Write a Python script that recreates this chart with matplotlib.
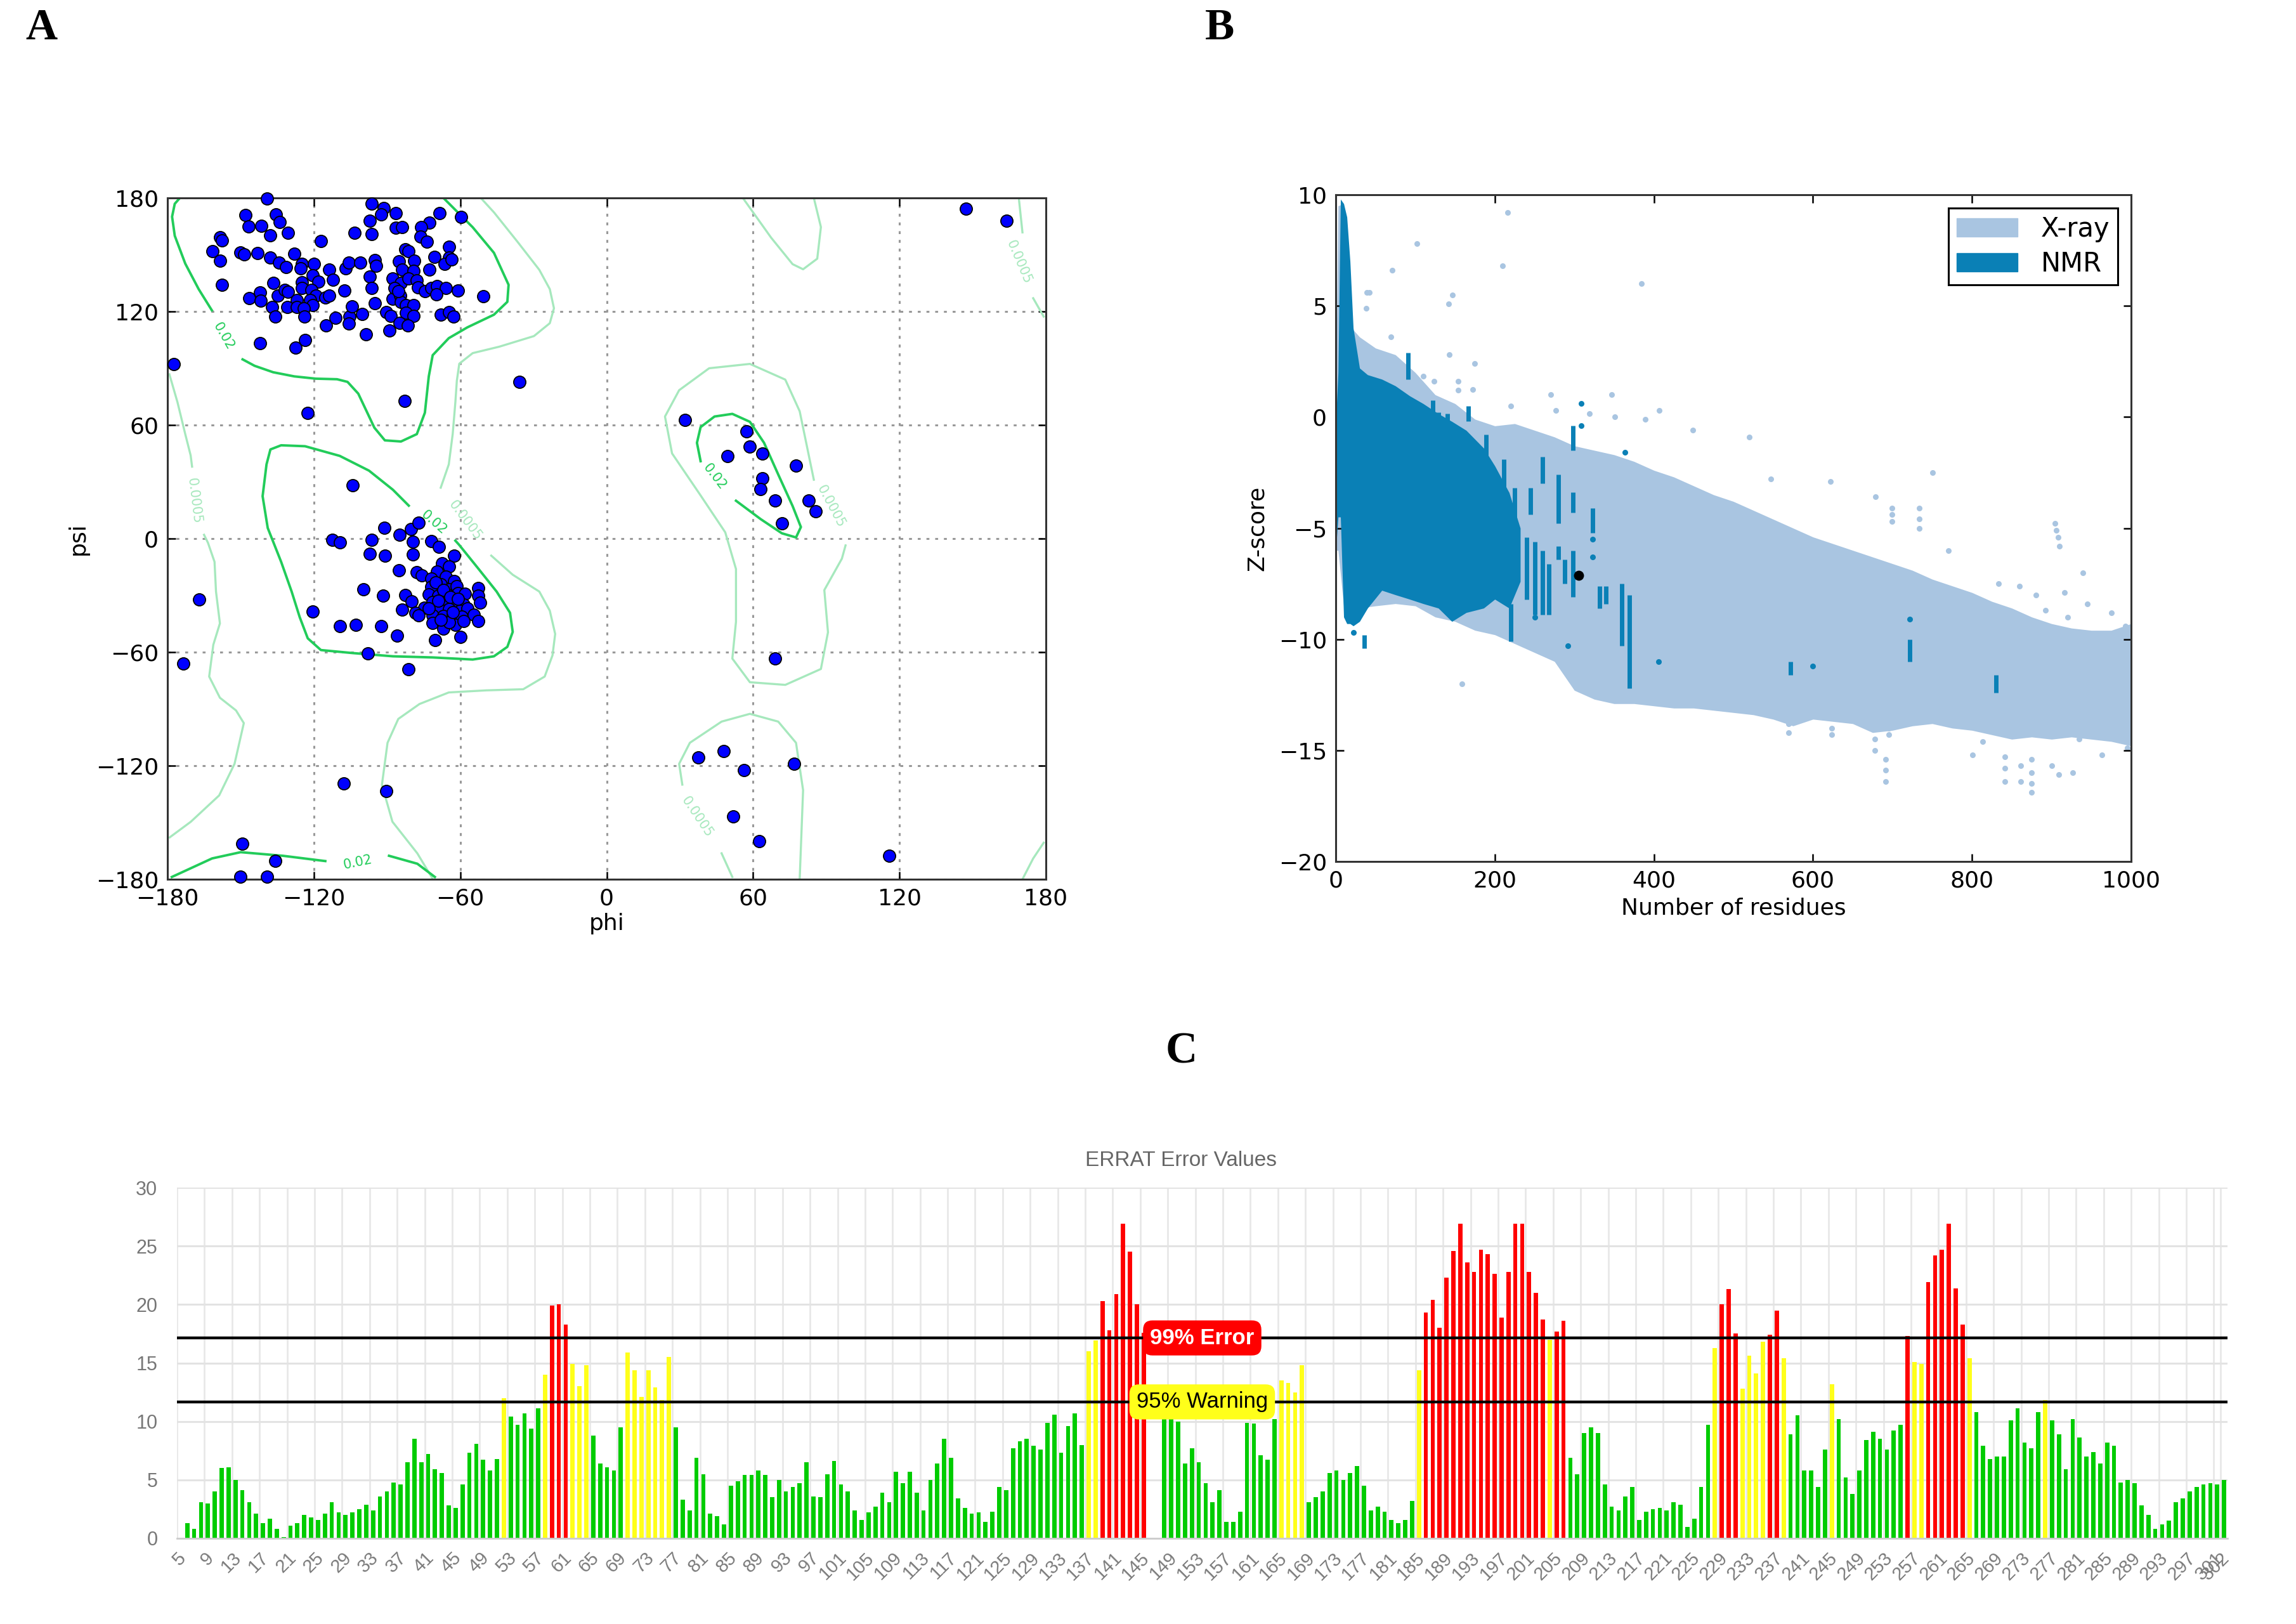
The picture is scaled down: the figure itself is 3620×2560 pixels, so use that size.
import matplotlib
matplotlib.use("Agg")
import matplotlib.pyplot as plt
from matplotlib.patches import Patch
import numpy as np

# ---------------- A: Ramachandran plot ----------------
rama_phi = [
    -139.1, -147.9, -135.6, -146.7, -141.6, -134.0, -137.8, -130.7, -158.5, -157.7,
    -117.1, -161.5, -158.5, -150.0, -148.5, -143.2, -137.8, -134.2, -131.5, -128.0,
    -124.9, -125.5, -120.0, -120.5, -118.1, -113.8, -112.1, -106.9, -105.6, -101.0,
    -103.2, -96.3, -91.4, -92.5, -86.3, -97.2, -96.3, -86.5, -83.8, -68.5,
    -59.6, -72.6, -76.0, -76.2, -73.7, -64.5, -82.4, -81.1, -70.7, -64.5,
    -66.4, -63.6, -94.9, -94.6, -85.0, -78.9, -83.8, -79.1, -72.6, -97.2,
    -87.6, -84.3, -81.1, -77.8, -136.7, -157.7, -146.5, -142.1, -141.9, -134.7,
    -131.8, -130.5, -127.1, -124.9, -124.9, -120.9, -119.2, -121.4, -120.5, -137.2,
    -135.8, -131.0, -127.1, -124.1, -123.9, -115.4, -113.6, -107.5, -115.1, -111.1,
    -105.3, -105.6, -104.3, -100.2, -98.7, -96.3, -94.9, -90.3, -88.4, -88.9,
    -87.6, -87.0, -84.5, -84.3, -82.2, -79.1, -82.2, -79.1, -84.9, -81.6,
    -85.4, -77.2, -74.5, -71.8, -69.6, -65.8, -60.9, -69.8, -68.0, -64.7,
    -62.7, -50.5, -35.8, -82.7, -122.5, -177.3, -142.1, -127.6, -123.6,
    # alpha region
    -104.2, -112.5, -109.2, -96.3, -91.2, -84.8, -80.2, -77.1, -79.4, -71.8,
    -68.8, -97.2, -90.9, -79.4, -62.5, -85.2, -77.8, -75.8, -67.4, -64.5,
    -69.6, -66.0, -62.5, -71.8, -71.8, -68.0, -64.7, -61.4, -52.7, -52.7,
    -51.8, -99.6, -91.6, -82.5, -79.8, -72.9, -69.1, -65.3, -60.9, -58.2,
    -71.3, -66.4, -62.0, -58.7, -74.7, -69.1, -64.7, -60.3, -57.1, -83.8,
    -78.3, -77.0, -71.3, -66.9, -63.1, -59.3, -54.4, -71.3, -66.9, -62.0,
    -58.7, -52.7, -66.9, -64.7, -120.5, -109.4, -102.9, -92.5, -85.8, -70.2,
    -59.8, -97.8, -81.1, -166.9, -173.5, -70.0, -67.0, -64.0, -61.0, -69.0,
    -73.0, -63.0, -68.0,
    # other regions
    147.2, 163.8, 32.1, 57.3, 58.7, 49.5, 63.7, 77.6, 63.7, 63.1,
    68.9, 82.8, 85.7, 71.8, 68.9, 37.6, 48.0, 56.4, 76.7, 51.8,
    62.5, 115.9, -107.8, -90.4, -149.3, -135.9, -150.2, -139.2,
]
rama_psi = [
    179.7, 171.0, 171.2, 165.0, 165.4, 167.3, 160.2, 161.7, 159.1, 157.5,
    157.2, 151.9, 146.7, 151.3, 150.2, 151.0, 148.5, 145.9, 143.3, 150.6,
    145.3, 142.9, 145.1, 139.1, 135.8, 142.2, 136.6, 142.9, 145.9, 145.9,
    161.7, 176.9, 174.6, 171.2, 172.1, 168.1, 160.9, 164.3, 164.7, 171.8,
    169.9, 167.0, 164.7, 159.4, 156.8, 154.1, 152.7, 151.9, 148.9, 148.5,
    145.1, 147.6, 147.0, 144.2, 146.5, 146.7, 142.0, 141.4, 142.2, 138.6,
    137.5, 135.2, 137.5, 136.3, 135.2, 134.1, 127.1, 130.1, 125.6, 128.4,
    131.3, 130.5, 126.2, 135.4, 132.4, 131.3, 128.4, 126.2, 123.4, 122.3,
    117.2, 122.3, 122.3, 121.7, 117.2, 127.3, 128.4, 130.9, 112.7, 116.6,
    117.4, 113.6, 122.8, 118.5, 108.0, 132.4, 124.5, 119.7, 117.7, 110.1,
    126.8, 132.4, 128.4, 125.1, 123.4, 123.4, 119.4, 117.7, 114.0, 112.7,
    130.7, 132.7, 130.7, 132.4, 133.5, 132.4, 130.9, 129.0, 118.3, 119.7,
    117.4, 127.9, 82.8, 72.9, 66.5, 92.2, 103.1, 100.9, 105.0,
    # alpha region
    28.0, -0.6, -2.0, -0.6, 5.8, 2.0, 5.0, 8.4, -1.7, -1.3,
    -4.5, -8.1, -9.2, -8.4, -9.0, -16.8, -17.7, -19.3, -13.2, -14.8,
    -17.4, -20.0, -22.4, -21.1, -25.6, -24.1, -26.9, -25.2, -26.3, -30.0,
    -33.9, -26.7, -30.3, -29.7, -33.1, -29.4, -30.0, -29.4, -28.9, -29.1,
    -33.4, -33.4, -34.2, -34.8, -36.4, -36.4, -37.2, -38.1, -37.0, -37.6,
    -39.2, -40.4, -40.4, -40.9, -40.4, -41.3, -40.1, -44.6, -46.0, -45.7,
    -43.5, -43.5, -47.6, -44.3, -38.7, -46.2, -45.6, -46.2, -51.3, -53.6,
    -51.8, -60.8, -69.2, -32.2, -65.9, -23.0, -27.0, -31.0, -32.0, -33.0,
    -37.0, -39.0, -43.0,
    # other regions
    174.3, 167.9, 62.6, 56.7, 48.7, 43.6, 45.0, 38.6, 31.7, 26.1,
    20.0, 20.0, 14.5, 8.1, -63.4, -115.6, -112.3, -122.3, -119.0, -146.8,
    -159.9, -167.6, -129.3, -133.4, -161.2, -170.4, -178.8, -178.8,
]

# contour lines, as (phi, psi) vertices; None = label gap
c02_beta = [(-174.9, 180.0), (-177.0, 176.9), (-178.1, 170.1), (-177.0, 160.0), (-172.7, 145.3),
            (-167.2, 131.8), (-161.8, 120.6), None,
            (-149.2, 94.7), (-144.3, 91.3), (-136.7, 87.9), (-128.0, 85.7), (-119.2, 84.5),
            (-110.5, 84.2), (-106.2, 82.8), (-101.8, 76.6), (-98.5, 67.6), (-95.2, 58.6),
            (-90.9, 51.9), (-84.3, 51.3), (-77.8, 55.2), (-74.5, 66.5), (-72.9, 85.7),
            (-71.3, 96.9), (-64.7, 105.9), (-57.1, 111.6), (-46.2, 118.3), (-40.7, 125.1),
            (-40.2, 134.1), (-46.2, 151.0), (-54.9, 164.5), (-66.9, 180.0)]
c02_alpha = [(-81.1, 17.4), (-87.6, 25.8), (-97.4, 35.9), (-109.4, 43.7), (-123.6, 48.8),
             (-133.4, 49.3), (-137.8, 47.1), (-139.4, 39.2), (-141.0, 22.4), (-138.9, 5.6),
             (-133.4, -12.3), (-129.1, -28.0), (-125.8, -41.5), (-122.5, -52.7), (-117.1, -58.9),
             (-104.0, -60.5), (-87.6, -62.2), (-71.3, -62.8), (-54.9, -63.9), (-46.2, -62.2),
             (-40.7, -57.2), (-38.5, -49.3), (-39.6, -39.2), (-45.1, -28.0), (-52.7, -15.7),
             (-60.4, -3.4), (-62.0, -1.1)]
c02_left = [(38.5, 40.9), (37.0, 50.6), (38.5, 58.9), (44.2, 64.5), (51.5, 65.9), (58.7, 61.7),
            (64.5, 50.6), (70.3, 33.9), (76.2, 17.2), (79.6, 6.1), (77.6, 0.6), (71.8, 2.8),
            (63.1, 10.3), (53.0, 20.0)]
c02_bottom = [(-178.2, -178.8), (-161.7, -169.0), (-150.0, -165.7), (-132.7, -167.6),
              (-115.3, -170.4), None, (-89.2, -167.6), (-77.6, -171.8), (-70.4, -178.8)]
c0005_left = [(-179.2, 86.8), (-175.9, 72.1), (-172.7, 55.2), (-170.5, 44.0), (-169.9, 38.0), None,
              (-165.0, 2.0), (-163.4, -2.2), (-160.7, -12.3), (-160.1, -28.0), (-158.5, -44.8),
              (-161.2, -56.1), (-162.9, -72.9), (-158.5, -84.1), (-151.9, -90.8), (-148.7, -97.5),
              (-152.5, -119.0), (-158.8, -135.7), (-170.4, -149.6), (-179.1, -157.9)]
c0005_mid = [(-51.6, 180.0), (-46.2, 172.4), (-36.4, 156.6), (-27.6, 142.0), (-23.3, 131.8),
             (-21.6, 121.7), (-23.3, 113.8), (-29.8, 107.0), (-44.0, 101.4), (-54.9, 98.0),
             (-60.4, 92.4), (-61.4, 83.4), (-62.0, 72.1), (-63.1, 55.2), (-64.7, 39.2),
             (-68.0, 26.9), None,
             (-47.3, -9.0), (-38.5, -19.1), (-27.6, -28.0), (-23.3, -38.1), (-21.1, -50.4),
             (-22.2, -61.7), (-25.4, -72.9), (-34.2, -79.6), (-49.4, -80.2), (-64.7, -81.3),
             (-76.7, -87.4), (-85.4, -95.3), (-89.8, -107.9), (-92.1, -130.1), (-87.8, -149.6),
             (-77.6, -166.3), (-71.2, -180.0)]
c0005_alphal = [(84.9, 31.1), (79.1, 67.3), (73.2, 84.0), (58.7, 92.3), (42.0, 90.0), (29.7, 78.4),
                (23.9, 64.5), (26.8, 45.0), (38.5, 22.8), (48.6, 3.3), (53.0, -16.1), (53.0, -43.9),
                (51.5, -63.4), (58.7, -75.9), (73.2, -77.3), (87.8, -68.9), (90.7, -49.5),
                (89.2, -27.2), (96.4, -10.6), (97.9, -3.6)]
c0005_top = [(55.8, 180.0), (67.4, 159.0), (76.2, 145.0), (80.5, 142.3), (86.3, 147.9),
             (87.8, 164.6), (84.9, 180.0)]
c0005_right = [(168.9, 180.0), (170.4, 161.8), None, (174.8, 127.0), (179.1, 117.3)]
c0005_corner = [(179.1, -160.7), (174.8, -169.0), (170.4, -180.0)]
c0005_bottom = [(79.1, -180.0), (80.5, -132.9), (77.6, -107.9), (70.3, -96.7), (58.7, -92.6),
                (47.1, -96.7), (34.1, -107.9), (29.7, -119.0), (31.0, -130.0), None,
                (47.1, -166.3), (51.5, -178.8)]

# contour labels: (phi, psi, rotation)
lab02 = [(-157.0, 107.0, -60), (-70.7, 8.4, -41), (44.2, 32.5, -52), (-102.0, -171.0, 12)]
lab0005 = [(-169.0, 20.0, -83), (-58.0, 9.5, -53), (92.0, 17.0, -62), (169.0, 146.0, -67),
           (37.0, -147.0, -56)]

# ---------------- B: ProSA z-score ----------------
xray_x = [0, 3, 10, 15, 20, 30, 50, 75, 100, 125, 150, 175, 200, 225, 250, 275, 300, 325, 350,
          375, 400, 425, 450, 475, 500, 525, 550, 575, 600, 625, 650, 675, 700, 725, 750, 775,
          800, 825, 850, 875, 900, 925, 950, 975, 1000]
xray_hi = [1.0, 9.5, 9.6, 6.0, 4.0, 3.6, 3.1, 2.8, 2.0, 1.0, 0.6, -0.1, -0.4, -0.3, -0.6, -0.9,
           -1.3, -1.5, -1.7, -2.0, -2.4, -2.7, -3.1, -3.5, -3.8, -4.2, -4.6, -5.0, -5.4, -5.7,
           -6.0, -6.3, -6.6, -6.9, -7.3, -7.6, -7.9, -8.3, -8.6, -9.0, -9.3, -9.5, -9.6,
           -9.6, -9.3]
xray_lo = [-6.0, -6.0, -8.5, -9.2, -9.0, -8.6, -8.5, -8.4, -8.5, -9.0, -9.2, -9.6, -9.8, -10.2,
           -10.6, -11.0, -12.3, -12.7, -12.9, -12.9, -13.0, -13.1, -13.1, -13.2, -13.3, -13.4,
           -13.6, -13.9, -13.6, -13.7, -13.8, -14.2, -14.1, -13.9, -13.8, -14.0, -14.1, -14.3,
           -14.5, -14.4, -14.5, -14.4, -14.5, -14.6, -14.8]
xray_dot_x = [216, 102, 210, 71, 384, 39, 147, 142, 38, 143, 175, 69, 270, 347, 407, 220, 449,
              520, 389, 277, 622, 547, 750, 679, 699, 699, 699, 734, 734, 734, 904, 906, 908,
              910, 939, 833, 916, 892, 920, 909, 953, 975, 993, 159, 695, 695, 695, 691, 691,
              691, 678, 678, 813, 801, 841, 841, 841, 861, 861, 875, 875, 875, 875, 909, 927,
              963, 995, 995, 935, 900, 624, 624, 569, 569, 110, 124, 154, 154, 172, 319, 351,
              42, 770, 880, 945, 860]
xray_dot_y = [9.2, 7.8, 6.8, 6.6, 6.0, 5.6, 5.5, 5.1, 4.9, 2.8, 2.4, 3.6, 1.0, 1.0, 0.3, 0.5,
              -0.6, -0.9, -0.1, 0.3, -2.9, -2.8, -2.5, -3.6, -4.1, -4.4, -4.7, -4.1, -4.6, -5.0,
              -4.8, -5.1, -5.4, -5.8, -7.0, -7.5, -7.9, -8.7, -9.0, -9.8, -9.8, -8.8, -9.4,
              -12.0, -13.6, -14.0, -14.3, -15.4, -15.9, -16.4, -14.5, -15.0, -14.6, -15.2,
              -15.3, -15.8, -16.4, -15.7, -16.4, -15.4, -16.0, -16.5, -16.9, -16.1, -16.0,
              -15.2, -14.5, -14.9, -14.5, -15.7, -14.0, -14.3, -13.8, -14.2, 1.85, 1.6, 1.6,
              1.2, 1.25, 0.15, 0.0, 5.6, -6.0, -8.0, -8.4, -7.6]

nmr_x = [1, 3, 6, 10, 14, 18, 22, 30, 40, 58, 75, 93, 110, 129, 146, 164, 186, 200, 218, 232]
nmr_hi = [0.5, 2.0, 9.8, 9.6, 9.0, 7.0, 4.0, 2.2, 1.9, 1.7, 1.4, 0.95, 0.6, 0.15, -0.2, -0.6,
          -1.4, -2.2, -3.4, -5.0]
nmr_lo = [-5.5, -4.5, -4.5, -9.0, -9.3, -9.3, -9.4, -9.2, -8.6, -7.8, -8.0, -8.2, -8.4, -8.6,
          -9.2, -8.8, -8.6, -8.2, -8.6, -7.4]
nmr_bar_x = [91, 122, 129, 140, 167, 189, 211, 220, 225, 245, 240, 250, 260, 268, 260, 280, 280,
             288, 298, 298, 298, 323, 332, 340, 360, 369, 572, 722, 830, 36]
nmr_bar_hi = [2.9, 0.75, 0.2, 0.15, 0.5, -0.8, -1.9, -8.4, -3.2, -3.2, -5.4, -5.6, -6.0, -6.6,
              -1.8, -2.6, -5.8, -6.4, -0.4, -3.4, -6.0, -4.1, -7.6, -7.6, -7.5, -8.0, -11.0,
              -10.0, -11.6, -9.8]
nmr_bar_lo = [1.7, -0.4, -1.0, -0.6, -0.2, -2.1, -3.4, -10.1, -5.0, -4.4, -8.2, -8.9, -8.9,
              -8.9, -3.0, -4.8, -6.4, -7.5, -1.5, -4.3, -8.1, -5.2, -8.6, -8.4, -10.3, -12.2,
              -11.6, -11.0, -12.4, -10.4]
nmr_dot_x = [309, 309, 364, 292, 406, 250, 600, 722, 323, 323, 22]
nmr_dot_y = [0.6, -0.4, -1.6, -10.3, -11.0, -9.0, -11.2, -9.1, -5.5, -6.3, -9.7]
query_res = [305.7]
query_z = [-7.13]

# ---------------- C: ERRAT ----------------
residues = list(range(5, 303))
errat = [
    0.0,
    1.3, 0.8, 3.1, 3.0, 4.0, 6.0, 6.1, 5.0, 4.1, 3.1,
    2.1, 1.3, 1.7, 0.8, 0.1, 1.1, 1.3, 2.0, 1.8, 1.6,
    2.1, 3.1, 2.2, 2.0, 2.2, 2.5, 2.9, 2.4, 3.6, 4.0,
    4.8, 4.6, 6.5, 8.5, 6.5, 7.2, 5.9, 5.6, 2.8, 2.6,
    4.6, 7.3, 8.1, 6.7, 5.8, 6.8, 12.0, 10.4, 9.7, 10.7,
    9.4, 11.1, 14.0, 19.9, 20.0, 18.3, 14.9, 13.0, 14.8, 8.8,
    6.4, 6.1, 5.8, 9.5, 15.9, 14.4, 12.1, 14.4, 12.9, 11.8,
    15.5, 9.5, 3.3, 2.4, 6.9, 5.5, 2.1, 1.9, 1.2, 4.5,
    4.9, 5.4, 5.4, 5.8, 5.4, 3.5, 5.0, 4.0, 4.4, 4.7,
    6.5, 3.6, 3.5, 5.5, 6.6, 4.6, 4.0, 2.4,
    1.6, 2.2, 2.7, 3.9, 3.1, 5.7, 4.7, 5.7, 3.9, 2.4,
    5.0, 6.4, 8.5, 6.9, 3.4, 2.6, 2.1, 2.2, 1.4, 2.3,
    4.4, 4.1, 7.7, 8.3, 8.5, 7.9, 7.6, 9.9, 10.6, 7.3,
    9.6, 10.7, 8.0, 16.0, 16.9, 20.3, 17.8, 20.9, 26.9, 24.5,
    20.0, 17.6, 0.0, 0.0, 10.2, 10.2, 10.0, 6.4, 7.7, 6.5,
    4.7, 3.1, 4.1, 1.4, 1.4, 2.3, 9.9, 9.8, 7.1, 6.7,
    10.2, 13.5, 13.3, 12.5, 14.8,
    3.1, 3.5, 4.0, 5.6, 5.8, 5.0, 5.6, 6.2, 4.5, 2.4,
    2.7, 2.3, 1.6, 1.3, 1.6, 3.2, 14.4, 19.3, 20.4, 18.0,
    22.3, 24.6, 26.9, 23.6, 22.8, 24.7, 24.3, 22.6, 18.9, 22.8,
    26.9, 26.9, 22.8, 21.0, 18.7, 17.0, 17.7, 18.6, 6.9, 5.5,
    9.0, 9.5, 9.0, 4.6, 2.7, 2.4, 3.6, 4.4, 1.6, 2.3,
    2.5, 2.6, 2.4, 3.1, 2.9, 1.0, 1.7, 4.4, 9.7, 16.3,
    20.0, 21.3, 17.5, 12.8, 15.6, 14.1, 16.8, 17.4, 19.5, 15.4,
    8.9, 10.5, 5.8, 5.8, 4.4, 7.6, 13.2, 10.2, 5.2, 3.8,
    5.8, 8.4, 9.1, 8.5, 7.6, 9.2, 9.7, 17.3, 15.1, 14.9,
    21.9, 24.2, 24.7, 26.9, 21.4, 18.3, 15.4, 10.8, 7.9, 6.8,
    7.0, 7.0, 10.1, 11.1, 8.2, 7.7, 10.8, 11.8, 10.1, 8.9,
    5.9, 10.2, 8.6, 7.0, 7.4, 6.4, 8.2, 7.9, 4.8, 5.0,
    4.7, 2.8, 2.0, 0.8, 1.2, 1.5, 3.1, 3.4, 4.0, 4.4,
    4.6, 4.7, 4.6, 5.0,
]
error_line = 17.14
warning_line = 11.67

# ---------------- figure ----------------
fig = plt.figure(figsize=(36.2, 25.6), dpi=100)
W, H = 3620.0, 2560.0


def box(x0, x1, ytop, ybot):
    return [x0 / W, 1 - ybot / H, (x1 - x0) / W, (ybot - ytop) / H]


def draw_path(ax, pts, **kw):
    seg = []
    for p in pts + [None]:
        if p is None:
            if seg:
                ax.plot([q[0] for q in seg], [q[1] for q in seg], **kw)
            seg = []
        else:
            seg.append(p)


def classic_axes(ax):
    for s in ax.spines.values():
        s.set_linewidth(2.2)
        s.set_color('#333333')
    ax.tick_params(direction='in', top=True, right=True, length=9, width=1.8,
                   labelsize=26, pad=10)


# A
axA = fig.add_axes(box(264, 1649, 312, 1386))
dark_c = '#22cc5a'
light_c = '#a6e8bd'
for path in [c0005_left, c0005_mid, c0005_alphal, c0005_top, c0005_right, c0005_corner,
             c0005_bottom]:
    draw_path(axA, path, color=light_c, lw=2.4, zorder=2)
for path in [c02_beta, c02_alpha, c02_left, c02_bottom]:
    draw_path(axA, path, color=dark_c, lw=2.8, zorder=2)
for x, y, r in lab02:
    axA.text(x, y, '0.02', color=dark_c, fontsize=15, rotation=r, ha='center', va='center',
             rotation_mode='anchor', zorder=2)
for x, y, r in lab0005:
    axA.text(x, y, '0.0005', color=light_c, fontsize=15, rotation=r, ha='center',
             va='center', rotation_mode='anchor', zorder=2)
axA.scatter(rama_phi, rama_psi, s=190, c='#0000ff', edgecolors='black', linewidths=1.3,
            zorder=3, clip_on=False)
axA.set_xlim(-180, 180)
axA.set_ylim(-180, 180)
ticks = [-180, -120, -60, 0, 60, 120, 180]
tick_txt = ['\u2212180', '\u2212120', '\u221260', '0', '60', '120', '180']
axA.set_xticks(ticks)
axA.set_yticks(ticks)
axA.set_xticklabels(tick_txt)
axA.set_yticklabels(tick_txt)
axA.grid(True, linestyle=(0, (1.5, 3)), color='#999999', lw=2.2)
classic_axes(axA)
axA.set_xlabel('phi', fontsize=26, labelpad=4)
axA.set_ylabel('psi', fontsize=26, labelpad=8)

# B
axB = fig.add_axes(box(2106, 3360, 307, 1358))
xray_c = '#a9c5e1'
nmr_c = '#0a80b6'
axB.fill_between(xray_x, xray_lo, xray_hi, color=xray_c, lw=0, zorder=1)
axB.scatter(xray_dot_x, xray_dot_y, s=42, c=xray_c, lw=0, zorder=1)
axB.fill_between(nmr_x, nmr_lo, nmr_hi, color=nmr_c, lw=0, zorder=2)
axB.vlines(nmr_bar_x, nmr_bar_lo, nmr_bar_hi, color=nmr_c, lw=5, zorder=2)
axB.scatter(nmr_dot_x, nmr_dot_y, s=42, c=nmr_c, lw=0, zorder=2)
axB.scatter(query_res, query_z, s=130, c='black', lw=0, zorder=4)
axB.set_xlim(0, 1000)
axB.set_ylim(-20, 10)
axB.set_xticks([0, 200, 400, 600, 800, 1000])
axB.set_yticks([-20, -15, -10, -5, 0, 5, 10])
axB.set_yticklabels(['\u221220', '\u221215', '\u221210', '\u22125', '0', '5', '10'])
classic_axes(axB)
axB.set_xlabel('Number of residues', fontsize=26, labelpad=6)
axB.set_ylabel('Z-score', fontsize=26, labelpad=12)
leg = axB.legend(handles=[Patch(facecolor=xray_c, edgecolor=xray_c, label='X-ray'),
                          Patch(facecolor=nmr_c, edgecolor=nmr_c, label='NMR')],
                 loc='upper right', fontsize=30, fancybox=False, framealpha=1,
                 edgecolor='black', handlelength=2.3, handleheight=0.7,
                 borderpad=0.3, labelspacing=0.3, handletextpad=0.9,
                 bbox_to_anchor=(1.0, 1.0), borderaxespad=0.5)
leg.get_frame().set_linewidth(2.2)

# C
axC = fig.add_axes(box(279, 3512, 1872, 2425))
idx = np.arange(len(residues))
colors = ['#ff0000' if v >= error_line else ('#ffff1a' if v >= warning_line else '#00cc00')
          for v in errat]
axC.bar(idx, errat, width=0.62, color=colors, zorder=2)
lab_idx = list(idx[::4]) + [idx[-1]]
grid_pos = [i - 0.5 for i in lab_idx]
for g in grid_pos:
    axC.axvline(g, color='#e8e8e8', lw=2, zorder=0)
axC.set_yticks([0, 5, 10, 15, 20, 25, 30])
axC.yaxis.grid(True, color='#e3e3e3', lw=2.2, zorder=0)
axC.set_axisbelow(True)
axC.set_xlim(-0.5, len(residues) - 0.5)
axC.set_ylim(0, 30)
axC.set_xticks(grid_pos)
axC.set_xticklabels([str(residues[i]) for i in lab_idx], rotation=45, ha='right',
                    rotation_mode='anchor')
axC.tick_params(axis='x', length=0, labelsize=21, labelcolor='#7a7a7a', pad=12)
axC.tick_params(axis='y', length=0, labelsize=22, labelcolor='#777777', pad=22)
for lbl in axC.get_xticklabels() + axC.get_yticklabels():
    lbl.set_family('Liberation Sans')
for s in ['top', 'right', 'left']:
    axC.spines[s].set_visible(False)
axC.spines['bottom'].set_color('#cccccc')
axC.spines['bottom'].set_linewidth(2)
axC.axhline(error_line, color='black', lw=3.2, zorder=3)
axC.axhline(warning_line, color='black', lw=3.2, zorder=3)
box_x = 153.5 - residues[0]
axC.text(box_x, error_line, '99% Error', fontsize=25, fontweight='bold', color='white',
         family='Liberation Sans', ha='center', va='center', zorder=4,
         bbox=dict(boxstyle='round,pad=0.3,rounding_size=0.4', fc='#ff0000', ec='#ff0000'))
axC.text(box_x, warning_line, '95% Warning', fontsize=25, color='black',
         family='Liberation Sans', ha='center', va='center', zorder=4,
         bbox=dict(boxstyle='round,pad=0.3,rounding_size=0.4', fc='#ffff1a', ec='#ffff1a'))

fig.text(1862 / W, 1 - 1830 / H, 'ERRAT Error Values', fontsize=24, color='#666666',
         family='Liberation Sans', ha='center', va='center')

for lab, x, y in [('A', 65, 45), ('B', 1923, 45), ('C', 1863, 1658)]:
    fig.text(x / W, 1 - y / H, lab, fontsize=50, fontweight='bold',
             family='Liberation Serif', ha='center', va='center')

fig.savefig('out.png', dpi=100)
